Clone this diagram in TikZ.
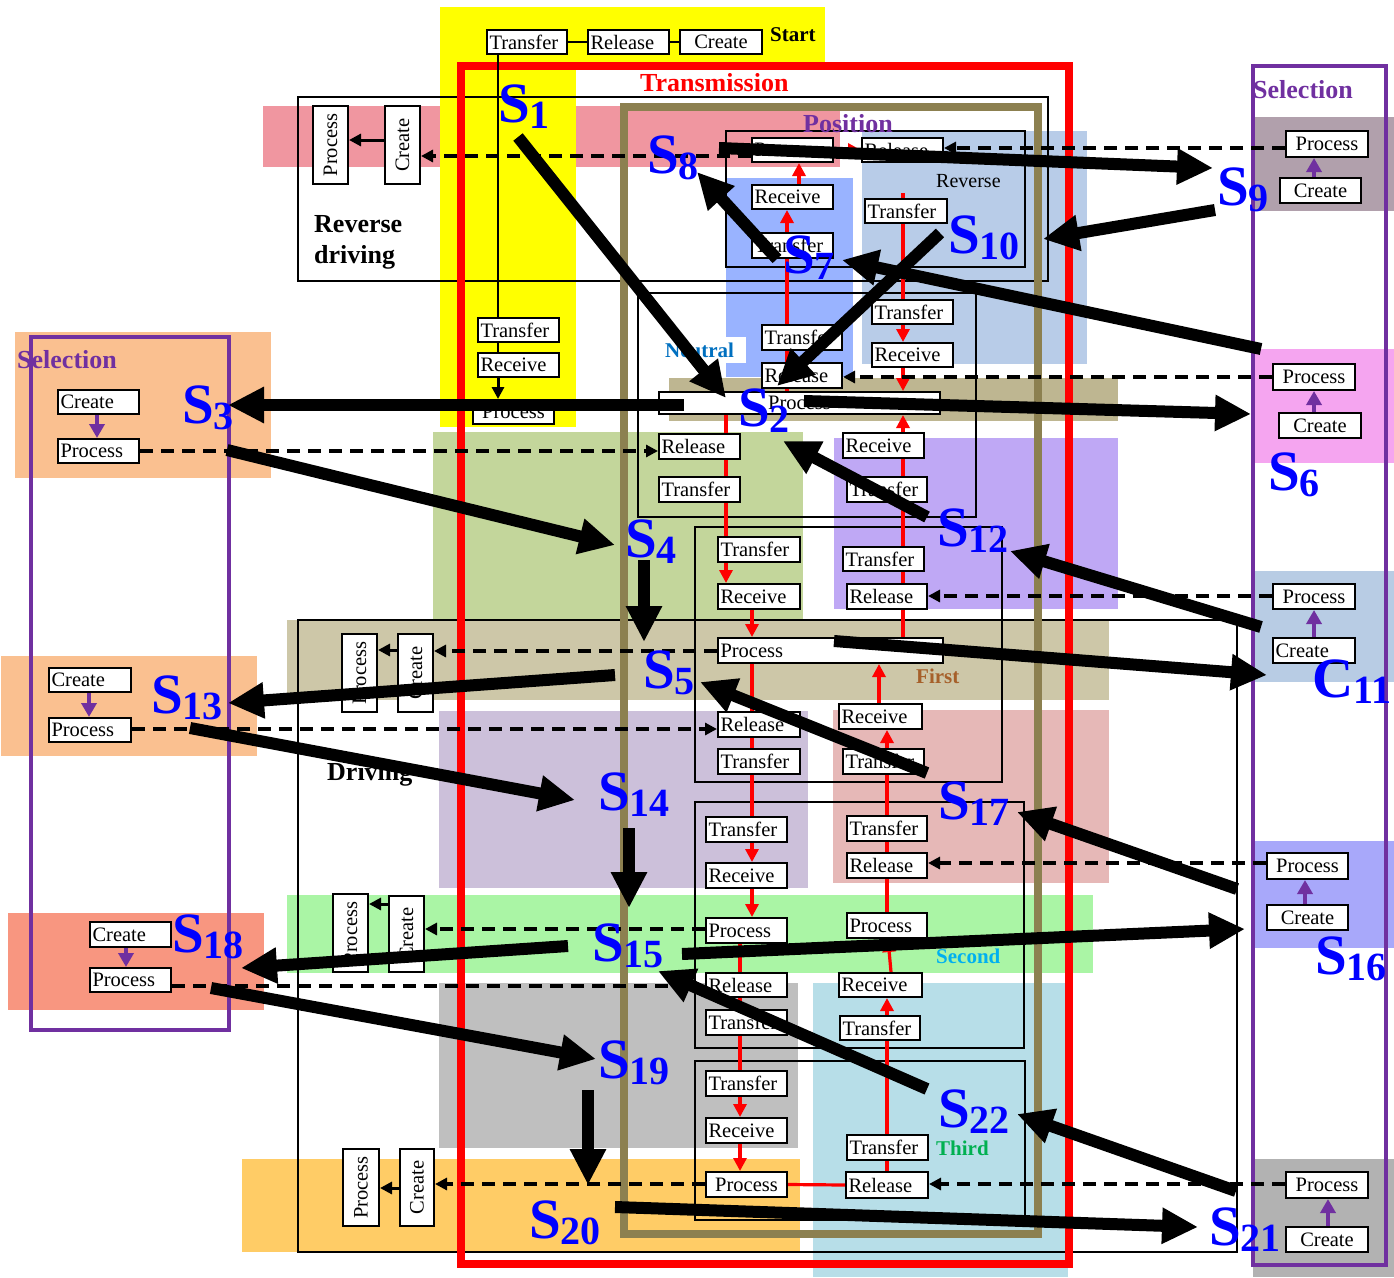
\documentclass[tikz,border=0pt]{standalone}
\usepackage{graphicx}
\usepackage{fontspec}
\setmainfont{Liberation Serif}
\usetikzlibrary{arrows.meta}
\pgfdeclarelayer{bg}\pgfdeclarelayer{frames}\pgfdeclarelayer{lns}
\pgfsetlayers{bg,frames,lns,main}
\definecolor{cPink}{HTML}{F096A0}
\definecolor{cYel}{HTML}{FFFF00}
\definecolor{cLBlue}{HTML}{B8CCE8}
\definecolor{cMBlue}{HTML}{99B3FF}
\definecolor{cOliveL}{HTML}{BEB691}
\definecolor{cGreen}{HTML}{C3D69B}
\definecolor{cPurpB}{HTML}{BFA8F5}
\definecolor{cTan}{HTML}{CDC7A8}
\definecolor{cLav}{HTML}{CCC0DA}
\definecolor{cRosy}{HTML}{E6B8B7}
\definecolor{cLGreen}{HTML}{AAF5A5}
\definecolor{cGray}{HTML}{BFBFBF}
\definecolor{cCyan}{HTML}{B7DEE8}
\definecolor{cOrange}{HTML}{FFCC66}
\definecolor{cPeach}{HTML}{FAC090}
\definecolor{cSalmon}{HTML}{F89680}
\definecolor{cMauve}{HTML}{B1A0AC}
\definecolor{cPinkR}{HTML}{F5A5F0}
\definecolor{cLBlue2}{HTML}{B8CCE4}
\definecolor{cViolet}{HTML}{A8A8FA}
\definecolor{cGray2}{HTML}{B2B2B2}
\definecolor{cPurple}{HTML}{7030A0}
\definecolor{cOlive}{HTML}{8C8050}
\definecolor{cNeut}{HTML}{0070C0}
\definecolor{cFirst}{HTML}{A6602A}
\definecolor{cSec}{HTML}{00B0F0}
\definecolor{cThird}{HTML}{00B050}
\newcommand\Bx[7][left]{%
  \pgfmathsetmacro\bxw{#5-#3-5}%
  \pgfmathsetmacro\bxh{#6-#4}%
  \pgfmathsetmacro\bxx{(#3+#5)/2}%
  \pgfmathsetmacro\bxy{(#4+#6)/2}%
  \node[bx,text width=\bxw pt,align=#1,minimum height=\bxh pt] (#2) at (\bxx,\bxy) {#7};}
\newcommand\VBx[6]{%
  \pgfmathsetmacro\bxw{#4-#2}\pgfmathsetmacro\bxh{#5-#3}%
  \pgfmathsetmacro\bxx{(#2+#4)/2}\pgfmathsetmacro\bxy{(#3+#5)/2}%
  \node[bx,inner sep=0pt,minimum width=\bxw pt,minimum height=\bxh pt] (#1) at (\bxx,\bxy) {\rotatebox{90}{#6}};}
\newcommand\Slab[5]{\node[slab] (#1) at (#2,#3) {\fontsize{57}{57}\selectfont #4\fontsize{40}{40}\selectfont\raisebox{-6pt}{#5}};}
\begin{document}
\begin{tikzpicture}[x=1pt,y=-1pt,
  bx/.style={draw=black,line width=2pt,fill=white,inner xsep=2.5pt,inner ysep=0pt,font=\fontsize{20.5}{22}\selectfont},
  frm/.style={draw=black,line width=1.7pt},
  rl/.style={draw=red,line width=3.2pt},
  ra/.style={rl,-{Triangle[length=13pt,width=13pt]}},
  dl/.style={draw=black,line width=3.5pt,dash pattern=on 13pt off 8pt,-{Triangle[length=12pt,width=12pt]}},
  pa/.style={draw=cPurple,line width=3.5pt,-{Triangle[length=14pt,width=15pt]}},
  ka/.style={draw=black,line width=3pt,-{Triangle[length=12pt,width=12pt]}},
  kl/.style={draw=black,line width=2.5pt},
  thk/.style={draw=black,line width=12pt,-{Triangle[length=36pt,width=34pt]}},
  slab/.style={text=blue,font=\bfseries,anchor=base west,inner sep=0pt},
  lbl/.style={anchor=base west,inner sep=0pt}]
\useasboundingbox (0,0) rectangle (1394,1277);
\begin{pgfonlayer}{bg}
\fill[white] (0,0) rectangle (1394,1277);
\fill[cPink] (263,106) rectangle (840,167);
\fill[cYel] (440,7) rectangle (825,62);
\fill[cYel] (440,7) rectangle (576,427);
\fill[cLBlue] (862,131) rectangle (1087,364);
\fill[cMBlue] (726,178) rectangle (853,377);
\fill[cOliveL] (669,378) rectangle (1118,421);
\fill[cGreen] (433,432) rectangle (803,621);
\fill[cPurpB] (834,438) rectangle (1118,609);
\fill[cTan] (287,620) rectangle (1109,700);
\fill[cLav] (439,711) rectangle (808,888);
\fill[cRosy] (833,710) rectangle (1109,883);
\fill[cLGreen] (287,895) rectangle (1093,973);
\fill[cGray] (439,983) rectangle (798,1148);
\fill[cCyan] (813,983) rectangle (1068,1277);
\fill[cOrange] (242,1159) rectangle (800,1252);
\fill[cPeach] (15,332) rectangle (271,478);
\fill[cPeach] (1,656) rectangle (257,756);
\fill[cSalmon] (8,913) rectangle (264,1010);
\fill[cMauve] (1253,117) rectangle (1394,211);
\fill[cPinkR] (1253,349) rectangle (1394,463);
\fill[cLBlue2] (1253,571) rectangle (1394,682);
\fill[cViolet] (1253,841) rectangle (1394,948);
\fill[cGray2] (1253,1159) rectangle (1394,1277);
\fill[white] (660,337) rectangle (746,363);
\end{pgfonlayer}
\begin{pgfonlayer}{frames}
\draw[frm] (298,97) rectangle (1048,281);
\draw[frm] (726,131) rectangle (1025,267);
\draw[frm] (638,293) rectangle (976,517);
\draw[frm] (695,527) rectangle (1002,782);
\draw[frm] (695,802) rectangle (1024,1048);
\draw[frm] (695,1061) rectangle (1025,1220);
\draw[frm] (298,620) rectangle (1237,1252);
\draw[cOlive,line width=8pt] (624,107) rectangle (1038,1234);
\draw[red,line width=8pt] (461,66) rectangle (1069,1264);
\draw[cPurple,line width=4pt] (31,337) rectangle (229,1030);
\draw[cPurple,line width=4pt] (1253,66) rectangle (1386,1265);
\end{pgfonlayer}
% start chain
\Bx{st1}{487}{30}{567}{54}{Transfer}
\Bx{st2}{588}{30}{669}{54}{Release}
\Bx[center]{st3}{680}{30}{762}{54}{Create}
\Bx{yt}{478}{318}{559}{342}{Transfer}
\Bx{yr}{478}{353}{559}{377}{Receive}
\Bx[center]{yp}{473}{400}{554}{424}{Process}
% reverse driving
\VBx{rdp}{313}{106}{348}{184}{Process}
\VBx{rdc}{385}{106}{420}{184}{Create}
% position
\Bx{pp}{752}{138}{833}{162}{Process}
\Bx{pr}{862}{138}{943}{162}{Release}
\Bx{prc}{752}{185}{833}{209}{Receive}
\Bx{pt}{752}{233}{833}{258}{Transfer}
\Bx{rt1}{865}{199}{947}{223}{Transfer}
\Bx{rt2}{872}{300}{953}{324}{Transfer}
\Bx{rrc}{872}{343}{953}{367}{Receive}
% neutral
\Bx{nt}{762}{325}{842}{350}{Transfer}
\Bx{nr}{762}{363}{842}{388}{Release}
\Bx[center]{np}{659}{392}{940}{414}{Process}
\Bx{gr}{659}{434}{740}{459}{Release}
\Bx{gt}{659}{477}{740}{502}{Transfer}
\Bx{urc}{843}{433}{924}{458}{Receive}
\Bx{ut1}{847}{477}{927}{502}{Transfer}
\Bx{ut2}{843}{547}{924}{571}{Transfer}
\Bx{ur}{847}{584}{927}{609}{Release}
% first
\Bx{ft}{718}{537}{800}{562}{Transfer}
\Bx{frc}{718}{584}{800}{609}{Receive}
\Bx{fp}{718}{638}{943}{663}{Process}
\Bx{frl}{718}{712}{800}{737}{Release}
\Bx{ft2}{718}{749}{800}{774}{Transfer}
\Bx{frc2}{839}{704}{922}{729}{Receive}
\Bx{ftr}{843}{749}{924}{774}{Transfer}
% second
\Bx{sdt}{706}{817}{787}{842}{Transfer}
\Bx{sdrc}{706}{863}{787}{888}{Receive}
\Bx{sdp}{706}{918}{787}{943}{Process}
\Bx{sdrl}{706}{973}{787}{997}{Release}
\Bx{sdt2}{706}{1010}{787}{1035}{Transfer}
\Bx{sdtr}{847}{816}{927}{841}{Transfer}
\Bx{sdrr}{847}{853}{927}{878}{Release}
\Bx{sdpr}{847}{913}{927}{938}{Process}
\Bx{sdrc2}{839}{973}{922}{997}{Receive}
\Bx{sdtt}{840}{1016}{920}{1040}{Transfer}
% third
\Bx{tdt}{706}{1071}{787}{1096}{Transfer}
\Bx{tdrc}{706}{1118}{787}{1143}{Receive}
\Bx[center]{tdp}{706}{1172}{787}{1197}{Process}
\Bx{tdtr}{847}{1135}{928}{1160}{Transfer}
\Bx{tdr}{846}{1172}{928}{1198}{Release}
% driving side boxes
\VBx{s5p}{342}{634}{377}{712}{Process}
\VBx{s5c}{398}{634}{433}{712}{Create}
\VBx{s15p}{333}{894}{368}{972}{Process}
\VBx{s15c}{389}{896}{424}{972}{Create}
\VBx{s20p}{343}{1149}{379}{1226}{Process}
\VBx{s20c}{400}{1149}{434}{1226}{Create}
% selection left
\Bx{s3c}{58}{390}{139}{414}{Create}
\Bx{s3p}{58}{439}{139}{463}{Process}
\Bx{s13c}{49}{668}{131}{692}{Create}
\Bx{s13p}{49}{718}{131}{742}{Process}
\Bx{s18c}{90}{922}{171}{947}{Create}
\Bx{s18p}{90}{968}{171}{992}{Process}
% selection right
\Bx[center]{s9p}{1286}{131}{1368}{157}{Process}
\Bx[center]{s9c}{1280}{178}{1361}{203}{Create}
\Bx[center]{s6p}{1273}{364}{1355}{390}{Process}
\Bx[center]{s6c}{1279}{413}{1361}{438}{Create}
\Bx[center]{c11p}{1273}{584}{1355}{609}{Process}
\Bx{c11c}{1273}{638}{1355}{663}{Create}
\Bx[center]{s16p}{1267}{853}{1348}{879}{Process}
\Bx[center]{s16c}{1267}{905}{1348}{930}{Create}
\Bx[center]{s21p}{1286}{1172}{1368}{1198}{Process}
\Bx[center]{s21c}{1286}{1227}{1368}{1252}{Create}
% red flow lines
\begin{pgfonlayer}{lns}
\draw[ra] (prc.north -| 799,0) -- (pp.south -| 799,0);
\draw[ra] (pp.east) -- (pr.west);
\draw[ra] (np.north -| 787,0) -- (prc.south -| 787,0);
\coordinate (rstub) at (903,193);
\draw[rl] (rstub) -- (rt1.north -| 903,0);
\draw[rl] (rt1.south -| 903,0) -- (rt2.north -| 903,0);
\draw[ra] (rt2.south -| 903,0) -- (rrc.north -| 903,0);
\draw[ra] (rrc.south -| 903,0) -- (np.north -| 903,0);
\draw[rl] (np.south -| 726,0) -- (ft.north -| 726,0);
\draw[ra] (ft.south -| 726,0) -- (frc.north -| 726,0);
\draw[ra] (frc.south -| 752,0) -- (fp.north -| 752,0);
\draw[ra] (fp.north -| 903,0) -- (np.south -| 903,0);
\draw[rl] (fp.south -| 752,0) -- (sdt.north -| 752,0);
\draw[ra] (sdt.south -| 752,0) -- (sdrc.north -| 752,0);
\draw[ra] (sdrc.south -| 752,0) -- (sdp.north -| 752,0);
\draw[rl] (sdp.south -| 740,0) -- (tdt.north -| 740,0);
\draw[ra] (tdt.south -| 740,0) -- (tdrc.north -| 740,0);
\draw[ra] (tdrc.south -| 740,0) -- (tdp.north -| 740,0);
\draw[rl] (tdp.east) -- (tdr.west);
\draw[rl] (tdr.north -| 887,0) -- (sdtt.south -| 887,0);
\draw[ra] (sdtt.north -| 887,0) -- (sdrc2.south -| 887,0);
\draw[ra] (sdrc2.north -| 891,0) -- (sdpr.south -| 888,0);
\draw[rl] (sdpr.north -| 887,0) -- (ftr.south -| 887,0);
\draw[ra] (ftr.north -| 887,0) -- (frc2.south -| 887,0);
\draw[ra] (frc2.north -| 879,0) -- (fp.south -| 879,0);
\end{pgfonlayer}
% black connectors
\draw[kl] (st1) -- (st2);
\draw[kl] (st2) -- (st3);
\draw[kl] (st1.south -| 498,0) -- (yt.north -| 498,0);
\draw[kl] (yt.south -| 498,0) -- (yr.north -| 498,0);
\draw[ka] (yr.south -| 498,0) -- (yp.north -| 498,0);
\draw[ka] (rdc.west |- 0,140) -- (rdp.east |- 0,140);
\draw[ka] (s5c.west |- 0,650) -- (s5p.east |- 0,650);
\draw[ka] (s15c.west |- 0,904) -- (s15p.east |- 0,904);
\draw[ka] (s20c.west |- 0,1188) -- (s20p.east |- 0,1188);
% purple
\draw[pa] (s3c.south -| 97,0) -- (s3p.north -| 97,0);
\draw[pa] (s13c.south -| 89,0) -- (s13p.north -| 89,0);
\draw[pa] (s18c.south -| 126,0) -- (s18p.north -| 126,0);
\draw[pa] (s9c.north -| 1314,0) -- (s9p.south -| 1314,0);
\draw[pa] (s6c.north -| 1314,0) -- (s6p.south -| 1314,0);
\draw[pa] (c11c.north -| 1314,0) -- (c11p.south -| 1314,0);
\draw[pa] (s16c.north -| 1305,0) -- (s16p.south -| 1305,0);
\draw[pa] (s21c.north -| 1328,0) -- (s21p.south -| 1328,0);
% dashed
\draw[dl] (s9p.west |- 0,148) -- (pr.east |- 0,148);
\draw[dl] (pp.west |- 0,156) -- (rdc.east |- 0,156);
\draw[dl] (s6p.west |- 0,377) -- (nr.east |- 0,377);
\draw[dl] (s3p.east |- 0,451) -- (gr.west |- 0,451);
\draw[dl] (c11p.west |- 0,596) -- (ur.east |- 0,596);
\draw[dl] (fp.west |- 0,651) -- (s5c.east |- 0,651);
\draw[dl] (s13p.east |- 0,729) -- (frl.west |- 0,729);
\draw[dl] (s16p.west |- 0,863) -- (sdrr.east |- 0,863);
\draw[dl] (sdp.west |- 0,929) -- (s15c.east |- 0,929);
\draw[dl] (s18p.east |- 0,986) -- (sdrl.west |- 0,986);
\draw[dl] (tdp.west |- 0,1184) -- (s20c.east |- 0,1184);
\draw[dl] (s21p.west |- 0,1184) -- (tdr.east |- 0,1184);
% labels
\node[lbl,text=red,font=\bfseries\fontsize{26}{26}\selectfont] (ttrans) at (640,91) {Transmission};
\node[lbl,font=\bfseries\fontsize{21}{21}\selectfont] (tstart) at (770,41) {Start};
\node[lbl,font=\bfseries\fontsize{26}{26}\selectfont] (trev1) at (314,232) {Reverse};
\node[lbl,font=\bfseries\fontsize{26}{26}\selectfont] (trev2) at (314,263) {driving};
\node[lbl,font=\bfseries\fontsize{26}{26}\selectfont] (tdriv) at (327,780) {Driving};
\node[lbl,text=cPurple,font=\bfseries\fontsize{26}{26}\selectfont] (tpos) at (803,132) {Position};
\node[lbl,font=\fontsize{20}{20}\selectfont] (trevr) at (936,187) {Reverse};
\node[lbl,text=cNeut,font=\bfseries\fontsize{21}{21}\selectfont] (tneu) at (665,357) {Neutral};
\node[lbl,text=cFirst,font=\bfseries\fontsize{21}{21}\selectfont] (tfirst) at (916,683) {First};
\node[lbl,text=cSec,font=\bfseries\fontsize{21}{21}\selectfont] (tsec) at (936,963) {Second};
\node[lbl,text=cThird,font=\bfseries\fontsize{21}{21}\selectfont] (tthird) at (936,1155) {Third};
\node[lbl,text=cPurple,font=\bfseries\fontsize{26}{26}\selectfont] (tsel1) at (17,368) {Selection};
\node[lbl,text=cPurple,font=\bfseries\fontsize{26}{26}\selectfont] (tsel2) at (1253,98) {Selection};
% S labels
\Slab{S1}{498}{122}{S}{1}
\Slab{S8}{647}{173}{S}{8}
\Slab{S7}{783}{273}{S}{7}
\Slab{S10}{948}{253}{S}{10}
\Slab{S9}{1217}{205}{S}{9}
\Slab{S2}{738}{426}{S}{2}
\Slab{S3}{182}{423}{S}{3}
\Slab{S6}{1268}{490}{S}{6}
\Slab{S4}{625}{557}{S}{4}
\Slab{S12}{937}{546}{S}{12}
\Slab{S5}{643}{688}{S}{5}
\Slab{C11}{1312}{697}{C}{11}
\Slab{S13}{151}{713}{S}{13}
\Slab{S14}{598}{810}{S}{14}
\Slab{S17}{938}{819}{S}{17}
\Slab{S15}{592}{961}{S}{15}
\Slab{S16}{1315}{974}{S}{16}
\Slab{S18}{172}{952}{S}{18}
\Slab{S19}{598}{1078}{S}{19}
\Slab{S22}{938}{1127}{S}{22}
\Slab{S20}{529}{1238}{S}{20}
\Slab{S21}{1209}{1245}{S}{21}
% thick transition arrows
\coordinate (t1a) at (518,137);  \coordinate (t1b) at (726,398);
\coordinate (t2a) at (777,259);  \coordinate (t2b) at (697,172);
\coordinate (t3a) at (719,148);  \coordinate (t3b) at (1213,168);
\coordinate (t4a) at (1215,210); \coordinate (t4b) at (1043,239);
\coordinate (t5a) at (940,233);  \coordinate (t5b) at (777,386);
\coordinate (t6a) at (1261,349); \coordinate (t6b) at (842,260);
\coordinate (t7a) at (804,401);  \coordinate (t7b) at (1251,414);
\coordinate (t8a) at (684,405);  \coordinate (t8b) at (228,405);
\coordinate (t9a) at (227,450);  \coordinate (t9b) at (615,545);
\coordinate (t10a) at (644,560); \coordinate (t10b) at (644,642);
\coordinate (t11a) at (927,517); \coordinate (t11b) at (783,441);
\coordinate (t12a) at (1261,627); \coordinate (t12b) at (1010,551);
\coordinate (t13a) at (834,641); \coordinate (t13b) at (1267,675);
\coordinate (t14a) at (615,675); \coordinate (t14b) at (228,703);
\coordinate (t15a) at (927,773); \coordinate (t15b) at (700,682);
\coordinate (t16a) at (190,728); \coordinate (t16b) at (575,800);
\coordinate (t17a) at (1237,889); \coordinate (t17b) at (1017,812);
\coordinate (t18a) at (629,828); \coordinate (t18b) at (629,908);
\coordinate (t19a) at (682,954); \coordinate (t19b) at (1245,929);
\coordinate (t20a) at (568,946); \coordinate (t20b) at (241,968);
\coordinate (t21a) at (927,1089); \coordinate (t21b) at (658,971);
\coordinate (t22a) at (211,988); \coordinate (t22b) at (596,1059);
\coordinate (t23a) at (588,1090); \coordinate (t23b) at (588,1185);
\coordinate (t24a) at (1236,1191); \coordinate (t24b) at (1017,1114);
\coordinate (t25a) at (615,1207); \coordinate (t25b) at (1198,1227);
\foreach \i in {1,...,25} {\draw[thk] (t\i a) -- (t\i b);}
\end{tikzpicture}
\end{document}
